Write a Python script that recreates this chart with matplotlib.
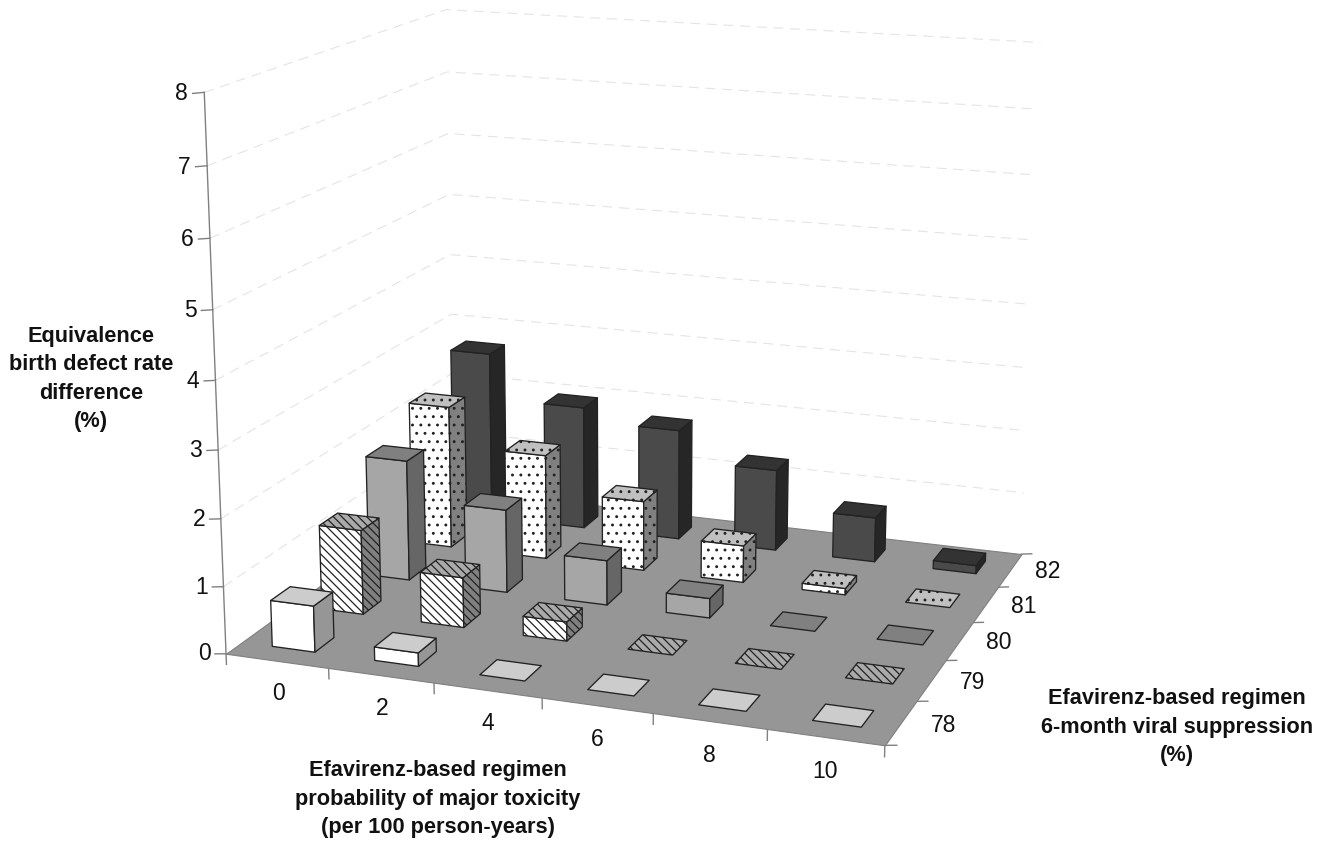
import matplotlib
matplotlib.use('Agg')
import matplotlib.pyplot as plt
from mpl_toolkits.mplot3d import proj3d
from mpl_toolkits.mplot3d.art3d import Poly3DCollection

plt.rcParams['font.family'] = ['Liberation Sans', 'DejaVu Sans']
plt.rcParams['hatch.linewidth'] = 0.9
plt.rcParams['hatch.color'] = '#111111'

toxicity = ['0', '2', '4', '6', '8', '10']
suppression = ['78', '79', '80', '81', '82']
rate_78 = [0.69, 0.2, 0, 0, 0, 0]
rate_79 = [1.29, 0.76, 0.29, 0, 0, 0]
rate_80 = [1.88, 1.29, 0.69, 0.3, 0, 0]
rate_81 = [2.27, 1.66, 1.1, 0.58, 0.1, 0]
rate_82 = [2.72, 1.99, 1.78, 1.3, 0.71, 0.13]
z_ticks = [0, 1, 2, 3, 4, 5, 6, 7, 8]

W, H = 1331, 842
fig = plt.figure(figsize=(W / 100, H / 100), dpi=100)
ax = fig.add_subplot(projection='3d', computed_zorder=False)
ax.set_axis_off()
ax.set_xlim(0, 6)
ax.set_ylim(0, 5)
ax.set_zlim(0, 8)
# camera fitted to the grid corners of the reference
ax.view_init(14.922, -70.123, -0.052)
ax.set_proj_type('persp', focal_length=0.5347)
ax.set_box_aspect((1, 0.8382, 0.8344))
ax.set_position([0.09845, -0.01281, 0.74960, 1.18494])
proj = ax.get_proj()

edge = '#222222'
axis_grey = '#808080'
text_col = '#111111'
styles = [
    {'front': '#ffffff', 'top': '#cccccc', 'side': '#969696', 'hatch': None},
    {'front': '#ffffff', 'top': '#aaaaaa', 'side': '#808080', 'hatch': '\\\\\\\\'},
    {'front': '#a6a6a6', 'top': '#808080', 'side': '#666666', 'hatch': None},
    {'front': '#ffffff', 'top': '#c0c0c0', 'side': '#808080', 'hatch': '..'},
    {'front': '#4a4a4a', 'top': '#333333', 'side': '#262626', 'hatch': None},
]
series = [rate_78, rate_79, rate_80, rate_81, rate_82]
bar_w = 0.42
bar_d = 0.38


def face(verts, color, hatch, z):
    ax.add_collection3d(Poly3DCollection([verts], facecolors=color, edgecolors=edge, linewidths=0.95,
                                         hatch=hatch, zorder=z))


def label(x, y, z, s, ha):
    u, v, _ = proj3d.proj_transform(x, y, z, proj)
    ax.annotate(s, (u, v), ha=ha, va='center', fontsize=16.5, color=text_col, annotation_clip=False)


floor = [[(0, 0, 0), (6, 0, 0), (6, 5, 0), (0, 5, 0)]]
ax.add_collection3d(Poly3DCollection(floor, facecolors='#969696', edgecolors=axis_grey, linewidths=0.8, zorder=1))

# dashed grid on the two back walls
for z in z_ticks[1:]:
    ax.plot([0, 0, 6], [0, 5, 5], [z, z, z], color='#e4e4e4', lw=0.8, ls=(0, (9, 6)), zorder=0.5)

# axis lines and ticks
ax.plot([0, 0], [0, 0], [0, 8], color=axis_grey, lw=1.0, zorder=0.6)
for z in z_ticks:
    ax.plot([0, -0.11], [0, 0], [z, z - 0.025], color=axis_grey, lw=1.0, zorder=0.6)
    label(-0.155, 0, z - 0.035, str(z), 'right')
for i in range(7):
    ax.plot([i, i], [0, 0], [0, -0.16], color=axis_grey, lw=1.0, zorder=0.6)
for i, lab in enumerate(toxicity):
    label(i + 0.5, 0, -0.49, lab, 'center')
for j in range(6):
    ax.plot([6, 6.1], [j, j], [0, 0.024], color=axis_grey, lw=1.0, zorder=0.6)
for j, lab in enumerate(suppression):
    label(6.36, j + 0.5, 0.05, lab, 'center')

# bars, back row first, left to right
z = 2
for j in range(4, -1, -1):
    st = styles[j]
    for i in range(6):
        h = series[j][i]
        x0 = i + 0.5 - bar_w / 2
        x1 = i + 0.5 + bar_w / 2
        y0 = j + 0.5 - bar_d / 2
        y1 = j + 0.5 + bar_d / 2
        if h > 0:
            face([(x0, y0, 0), (x1, y0, 0), (x1, y0, h), (x0, y0, h)], st['front'], st['hatch'], z)
            face([(x1, y0, 0), (x1, y1, 0), (x1, y1, h), (x1, y0, h)], st['side'], st['hatch'], z + 0.1)
        face([(x0, y0, h), (x1, y0, h), (x1, y1, h), (x0, y1, h)], st['top'], st['hatch'], z + 0.2)
        z += 1

fig.text(91 / W, 1 - 379 / H, 'Equivalence\nbirth defect rate\ndifference\n(%)', ha='center', va='center',
         fontsize=15.7, fontweight='bold', linespacing=1.45, color=text_col)
fig.text(438 / W, 1 - 799 / H, 'Efavirenz-based regimen\nprobability of major toxicity\n(per 100 person-years)',
         ha='center', va='center', fontsize=15.7, fontweight='bold', linespacing=1.48, color=text_col)
fig.text(1177 / W, 1 - 727 / H, 'Efavirenz-based regimen\n6-month viral suppression\n(%)', ha='center', va='center',
         fontsize=15.7, fontweight='bold', linespacing=1.48, color=text_col)

fig.savefig('out.png', dpi=100)
